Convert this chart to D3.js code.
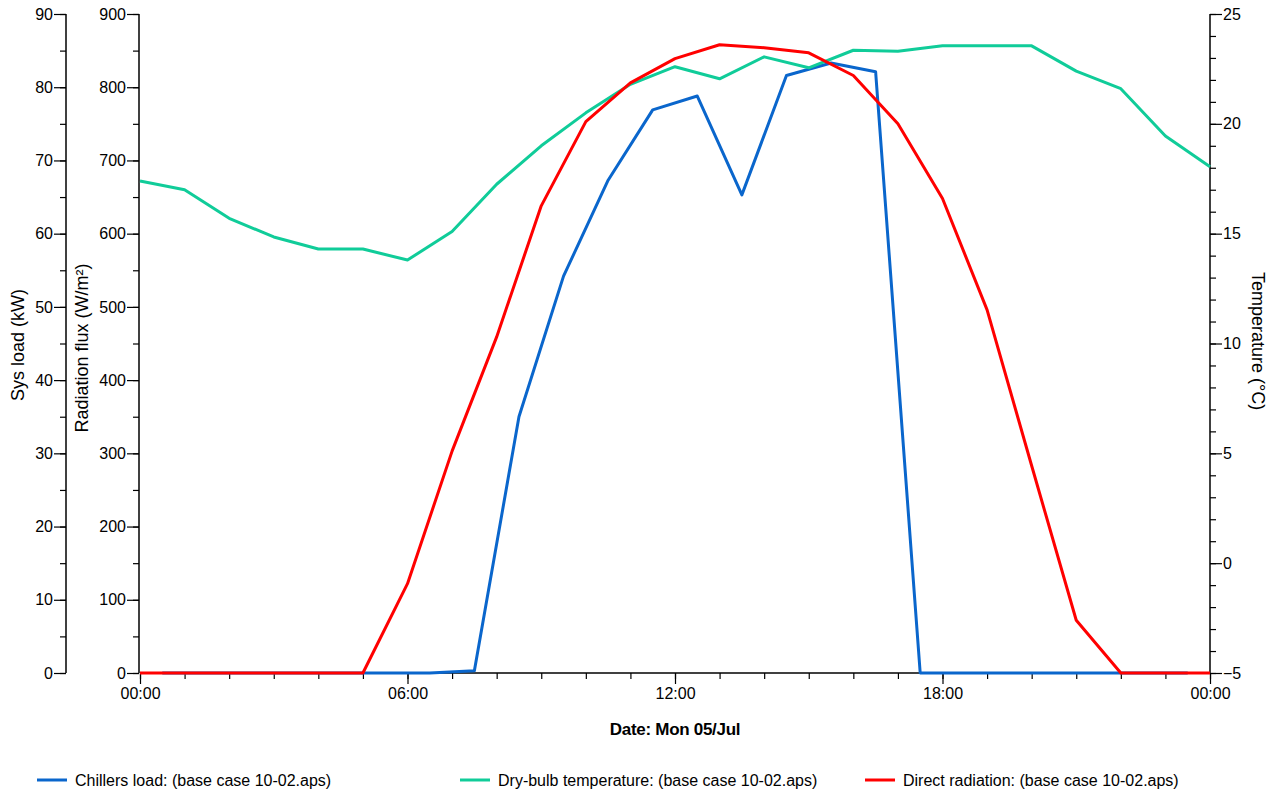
<!DOCTYPE html>
<html>
<head>
<meta charset="utf-8">
<script src="https://cdn.jsdelivr.net/npm/d3@7"></script>
<style>
  body { margin: 0; background: #fff; }
  text { font-family: "Liberation Sans", Arial, sans-serif; fill: #000; }
</style>
</head>
<body>
<div id="chart"></div>
<script>
var width = 1283,
    height = 791;

// hourly values (hour of day)
var hoursHalf = [0.5, 1.5, 2.5, 3.5, 4.5, 5.5, 6.5, 7.5, 8.5, 9.5, 10.5, 11.5,
                 12.5, 13.5, 14.5, 15.5, 16.5, 17.5, 18.5, 19.5, 20.5, 21.5, 22.5, 23.5];
var chillersLoad = [0, 0, 0, 0, 0, 0, 0, 0.3, 35, 54.2, 67.3, 76.9,
                    78.8, 65.3, 81.6, 83.3, 82.1, 0, 0, 0, 0, 0, 0, 0];

var hoursFull = [0, 1, 2, 3, 4, 5, 6, 7, 8, 9, 10, 11, 12,
                 13, 14, 15, 16, 17, 18, 19, 20, 21, 22, 23, 24];
var dryBulb = [17.4, 17.0, 15.7, 14.85, 14.3, 14.3, 13.8, 15.1, 17.25, 19.0, 20.5, 21.8, 22.6,
               22.05, 23.05, 22.55, 23.35, 23.3, 23.55, 23.55, 23.55, 22.4, 21.6, 19.45, 18.05];
var directRad = [0, 0, 0, 0, 0, 0, 122, 303, 459, 638, 753, 806, 839,
                 858, 854, 847, 816, 750, 648, 496, 283, 72, 0, 0, 0];

var xTickLabels = ["00:00", "06:00", "12:00", "18:00", "00:00"];

var legendNames = ["Chillers load: (base case 10-02.aps)",
                   "Dry-bulb temperature: (base case 10-02.aps)",
                   "Direct radiation: (base case 10-02.aps)"];
var colors = ["#0a66cc", "#10cc99", "#ff0000"];

var x0 = 140, x1 = 1210, yTop = 14, yBot = 673;

var svg = d3.select("#chart").append("svg")
    .attr("width", width)
    .attr("height", height);

var x = d3.scaleLinear().domain([0, 24]).range([x0, x1]);
var yLoad = d3.scaleLinear().domain([0, 90]).range([yBot, yTop]);
var yRad = d3.scaleLinear().domain([0, 900]).range([yBot, yTop]);
var yTemp = d3.scaleLinear().domain([-5, 25]).range([yBot, yTop]);

function styleAxis(g) {
    g.selectAll("path, line").attr("stroke", "#000").attr("stroke-width", 1.2);
    g.selectAll("text").style("font-size", "16px").attr("fill", "#000");
    g.select(".domain").attr("d", null);
}

// minor + major ticks for a vertical axis
function vAxis(scale, xpos, minorStep, majorStep, side) {
    var dom = scale.domain();
    var g = svg.append("g").attr("transform", "translate(" + xpos + ",0)");
    var minor = d3.range(dom[0], dom[1] + 0.001, minorStep);
    var major = d3.range(dom[0], dom[1] + 0.001, majorStep);
    var mk = side === "left" ? d3.axisLeft : d3.axisRight;
    g.append("g").call(mk(scale).tickValues(minor).tickSize(6).tickFormat(""))
        .call(styleAxis);
    g.append("g").call(mk(scale).tickValues(major).tickSize(12).tickPadding(1).tickFormat(d3.format("d")))
        .call(styleAxis);
    g.append("line").attr("x1", 0).attr("x2", 0)
        .attr("y1", scale.range()[1]).attr("y2", scale.range()[0])
        .attr("stroke", "#000").attr("stroke-width", 1.5);
}

vAxis(yLoad, 66, 5, 10, "left");
vAxis(yRad, 139, 50, 100, "left");
vAxis(yTemp, 1210, 1, 5, "right");

// x axis
var gx = svg.append("g").attr("transform", "translate(0," + yBot + ")");
gx.append("g").call(d3.axisBottom(x).tickValues(d3.range(0, 25, 1)).tickSize(6).tickFormat(""))
    .call(styleAxis);
gx.append("g").call(d3.axisBottom(x).tickValues([0, 6, 12, 18, 24]).tickSize(11).tickPadding(4)
        .tickFormat(function(d, i) { return xTickLabels[i]; }))
    .call(styleAxis);
gx.append("line").attr("x1", x0).attr("x2", x1)
    .attr("stroke", "#000").attr("stroke-width", 1.5);

// axis titles
svg.append("text")
    .attr("transform", "translate(24,345) rotate(-90)")
    .attr("text-anchor", "middle")
    .style("font-size", "18px")
    .text("Sys load (kW)");

svg.append("text")
    .attr("transform", "translate(88,348) rotate(-90)")
    .attr("text-anchor", "middle")
    .style("font-size", "18px")
    .text("Radiation flux (W/m²)");

svg.append("text")
    .attr("transform", "translate(1252,341) rotate(90)")
    .attr("text-anchor", "middle")
    .style("font-size", "18px")
    .text("Temperature (°C)");

svg.append("text")
    .attr("x", 675)
    .attr("y", 735)
    .attr("text-anchor", "middle")
    .style("font-size", "17px")
    .attr("font-weight", "bold")
    .attr("letter-spacing", "-0.3px")
    .text("Date: Mon 05/Jul");

// series lines
var lineLoad = d3.line()
    .x(function(d, i) { return x(hoursHalf[i]); })
    .y(function(d) { return yLoad(d); });
var lineTemp = d3.line()
    .x(function(d, i) { return x(hoursFull[i]); })
    .y(function(d) { return yTemp(d); });
var lineRad = d3.line()
    .x(function(d, i) { return x(hoursFull[i]); })
    .y(function(d) { return yRad(d); });

svg.append("path").datum(chillersLoad)
    .attr("d", lineLoad)
    .attr("fill", "none").attr("stroke", colors[0]).attr("stroke-width", 3)
    .attr("stroke-linejoin", "round");
svg.append("path").datum(dryBulb)
    .attr("d", lineTemp)
    .attr("fill", "none").attr("stroke", colors[1]).attr("stroke-width", 3)
    .attr("stroke-linejoin", "round");
svg.append("path").datum(directRad)
    .attr("d", lineRad)
    .attr("fill", "none").attr("stroke", colors[2]).attr("stroke-width", 3)
    .attr("stroke-linejoin", "round");

// legend
var legendX = [37, 460, 865];
var legend = svg.selectAll(".legend")
    .data(legendNames)
    .enter().append("g")
    .attr("class", "legend")
    .attr("transform", function(d, i) { return "translate(" + legendX[i] + ",780)"; });
legend.append("line")
    .attr("x1", 0).attr("x2", 30)
    .attr("stroke", function(d, i) { return colors[i]; })
    .attr("stroke-width", 3);
legend.append("text")
    .attr("x", 38).attr("y", 6)
    .style("font-size", "16px")
    .text(function(d) { return d; });
</script>
</body>
</html>
